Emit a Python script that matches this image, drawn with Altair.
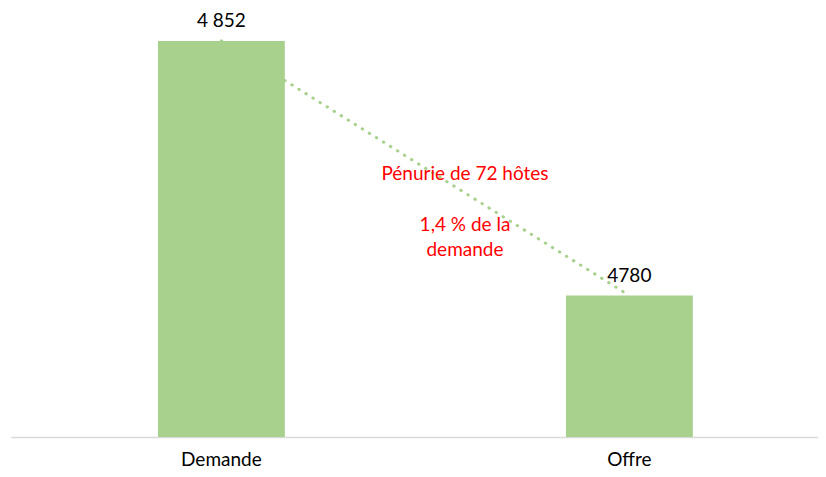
import altair as alt
import pandas as pd

categories = ["Demande", "Offre"]
values = [4852, 4780]
value_labels = ["4 852", "4780"]
annotations = ["Pénurie de 72 hôtes", "1,4 % de la", "demande"]

df = pd.DataFrame({"cat": categories, "val": values, "lab": value_labels})

FONT = "Lato"
FS = 19
GREEN = "#A9D18E"

xs = alt.X("cat:N", sort=categories, title=None,
           scale=alt.Scale(paddingInner=0.689, paddingOuter=0.3335, align=0.54),
           axis=alt.Axis(labelAngle=0, ticks=False, domainColor="#D9D9D9", domainWidth=1.5,
                         labelFont=FONT, labelFontSize=FS, labelColor="#000000",
                         labelPadding=13, grid=False))
ys = alt.Y("val:Q", title=None, scale=alt.Scale(domain=[4740, 4861.3], zero=False, nice=False),
           axis=None)

base = alt.Chart(df)

line = base.mark_line(color=GREEN, strokeWidth=3, strokeDash=[0.5, 7.8], strokeCap="round").encode(x=xs, y=ys)
bars = base.mark_bar(color=GREEN).encode(x=xs, y=ys, y2=alt.datum(4740))
labels = base.mark_text(font=FONT, fontSize=FS, color="#000000", baseline="bottom", dy=-10).encode(
    x=xs, y=ys, text="lab:N")

ann_df = pd.DataFrame({"t": annotations, "ypx": [166, 217, 242]})
ann = alt.Chart(ann_df).mark_text(font=FONT, fontSize=FS, color="#FF0000", baseline="middle", align="center").encode(
    x=alt.value(454), y=alt.Y("ypx:Q", scale=None), text="t:N")

chart = alt.layer(line, bars, labels, ann).properties(
    width=807, height=429,
    autosize=alt.AutoSizeParams(type="none"),
    padding={"left": 3, "top": 0, "right": 0, "bottom": 32},
).configure_view(stroke=None)

chart.save("out.html", embed_options={"renderer": "svg", "actions": False})
